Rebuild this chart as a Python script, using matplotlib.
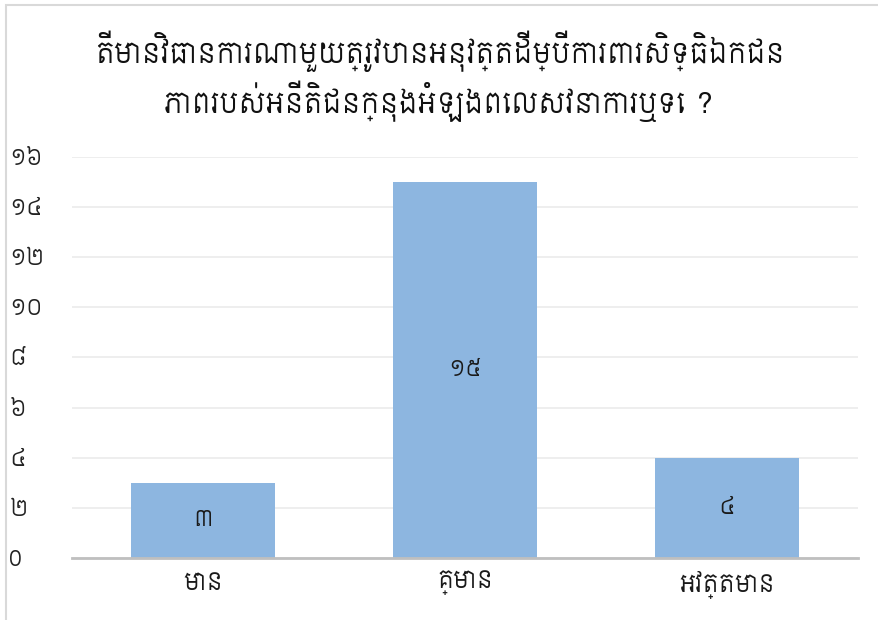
import matplotlib
matplotlib.use('Agg')
import matplotlib.pyplot as plt
from matplotlib.patches import Rectangle

# data
categories = ['មាន', 'គ្មាន', 'អវត្តមាន']
values = [3, 15, 4]
value_labels = ['៣', '១៥', '៤']
yticks = [0, 2, 4, 6, 8, 10, 12, 14, 16]
ytick_labels = ['0', '២', '៤', '៦', '៨', '១០', '១២', '១៤', '១៦']
title = 'តើមានវិធានការណាមួយត្រូវបានអនុវត្តដើម្បីការពារសិទ្ធិឯកជន\nភាពរបស់អនីតិជនក្នុងអំឡុងពេលសវនាការឬទេ ?'

KH = ['Siemreap', 'DejaVu Sans']
plt.rcParams['font.family'] = KH

fig = plt.figure(figsize=(8.79, 6.2), dpi=100)
# light frame around the chart area (top and left edges visible)
fig.patches.append(Rectangle((6 / 879, -0.01), 1.1, 1 - 5 / 620 + 0.01,
                             transform=fig.transFigure, fill=False,
                             edgecolor='#D9D9D9', linewidth=1.5))
ax = fig.add_axes([72 / 879, 0.1, (858 - 72) / 879, 0.647])

x = range(len(categories))
bars = ax.bar(x, values, width=0.55, color='#8DB6E0', zorder=2)
for b, lab in zip(bars, value_labels):
    ax.text(b.get_x() + b.get_width() / 2, b.get_height() / 2, lab,
            ha='center', va='center', fontsize=16, color='#1A1A1A', zorder=3)

ax.set_xlim(-0.5, 2.5)
ax.set_ylim(0, 16)
ax.set_yticks(yticks)
ax.set_yticklabels(ytick_labels, fontsize=16, color='#222222')
for t in ax.get_yticklabels():
    t.set_horizontalalignment('left')
ax.tick_params(axis='y', length=0, pad=45)
ax.set_xticks(list(x))
ax.set_xticklabels(categories, fontsize=17, color='#1A1A1A')
ax.tick_params(axis='x', length=0, pad=9)

ax.yaxis.grid(True, color='#EBEBEB', linewidth=1.2, zorder=0)
ax.set_axisbelow(True)
for s in ['top', 'right', 'left']:
    ax.spines[s].set_visible(False)
ax.spines['bottom'].set_color('#BFBFBF')
ax.spines['bottom'].set_linewidth(2)
ax.spines['bottom'].set_zorder(4)

fig.text(0.5, 0.877, title, ha='center', va='center', fontsize=20,
         linespacing=1.25, color='#111111')

fig.savefig('out.png', dpi=100)
